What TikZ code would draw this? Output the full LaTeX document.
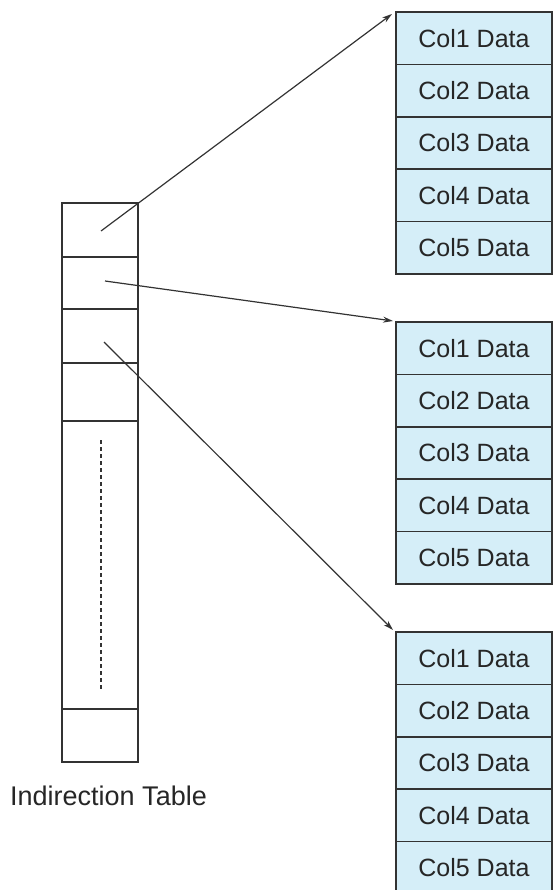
\documentclass[tikz,border=0pt]{standalone}
\usepackage{fontspec}
\setmainfont{Liberation Sans}
\usetikzlibrary{arrows.meta,calc}
\definecolor{cellblue}{HTML}{D5EEF8}
\definecolor{linegray}{HTML}{333333}
\begin{document}
\begin{tikzpicture}[x=1pt,y=-1pt,
  tcell/.style={draw=linegray,line width=1.6pt,minimum width=76pt,inner sep=0pt,outer sep=0pt},
  dcell/.style={draw=linegray,line width=1.6pt,fill=cellblue,minimum width=156pt,minimum height=52.4pt,inner sep=0pt,outer sep=0pt,font=\fontsize{25}{28}\selectfont,text=black!85},
  ptr/.style={draw=linegray,line width=1.2pt,-{Stealth[length=10pt,width=6pt]}}]
\useasboundingbox (0,0) rectangle (552,890);
% indirection table
\node[tcell,minimum height=54pt,anchor=north west] (t1) at (62,203) {};
\node[tcell,minimum height=52pt,anchor=north west] (t2) at (t1.south west) {};
\node[tcell,minimum height=54pt,anchor=north west] (t3) at (t2.south west) {};
\node[tcell,minimum height=58pt,anchor=north west] (t4) at (t3.south west) {};
\node[tcell,minimum height=288pt,anchor=north west] (t5) at (t4.south west) {};
\node[tcell,minimum height=53pt,anchor=north west] (t6) at (t5.south west) {};
\draw[linegray,line width=1.3pt,dash pattern=on 4pt off 3pt] (101,440) -- (101,690);
\node[font=\fontsize{27}{30}\selectfont,text=black!85,anchor=base west,inner sep=0pt] (lbl) at (10,805) {Indirection Table};
% data blocks
\foreach \b/\y in {a/12,b/322,c/632}{
  \node[dcell,anchor=north west] (\b1) at (396,\y) {Col1 Data};
  \node[dcell,anchor=north west] (\b2) at (\b1.south west) {Col2 Data};
  \node[dcell,anchor=north west] (\b3) at (\b2.south west) {Col3 Data};
  \node[dcell,anchor=north west] (\b4) at (\b3.south west) {Col4 Data};
  \node[dcell,anchor=north west] (\b5) at (\b4.south west) {Col5 Data};
}
% pointers
\coordinate (p1) at (101,231);
\coordinate (p2) at (105,281);
\coordinate (p3) at (104,342);
\coordinate (e1) at ($(a1.north west)+(-4,2)$);
\coordinate (e2) at ($(b1.north west)+(-3,-1)$);
\coordinate (e3) at ($(c1.north west)+(-3,-2)$);
\draw[ptr] (p1) -- (e1);
\draw[ptr] (p2) -- (e2);
\draw[ptr] (p3) -- (e3);
\end{tikzpicture}
\end{document}
